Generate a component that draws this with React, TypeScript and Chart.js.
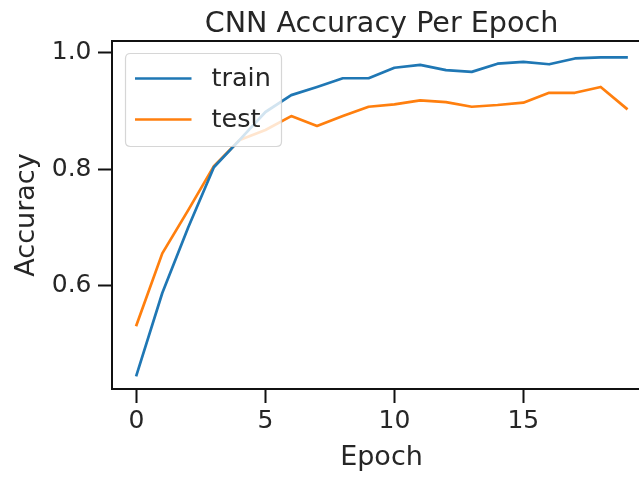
import React, { useEffect, useRef } from "react";
import { Chart, registerables } from "chart.js";

Chart.register(...registerables);

const epochs = [0, 1, 2, 3, 4, 5, 6, 7, 8, 9, 10, 11, 12, 13, 14, 15, 16, 17, 18, 19];
const trainAcc = [0.446, 0.587, 0.699, 0.803, 0.850, 0.898, 0.927, 0.941, 0.956, 0.956, 0.974, 0.979, 0.970, 0.967, 0.981, 0.984, 0.980, 0.990, 0.992, 0.992];
const testAcc = [0.532, 0.655, 0.729, 0.805, 0.850, 0.867, 0.891, 0.874, 0.891, 0.907, 0.911, 0.918, 0.915, 0.907, 0.910, 0.914, 0.931, 0.931, 0.941, 0.904];
const seriesLabels = ["train", "test"];
const seriesColors = ["#1f77b4", "#ff7f0e"];
const xTicks = [0, 5, 10, 15];
const yTicks = [0.6, 0.8, 1.0];
const titleText = "CNN Accuracy Per Epoch";
const xLabel = "Epoch";
const yLabel = "Accuracy";

const FONT = "'DejaVu Sans', 'Liberation Sans', sans-serif";
const TEXT = "#262626";
const EDGE = "#111111";

const mplPlugin = {
  id: "mplStyle",
  afterDatasetsDraw(chart: any) {
    const { ctx, chartArea: a } = chart;
    ctx.save();
    // spines
    ctx.strokeStyle = EDGE;
    ctx.lineWidth = 2;
    ctx.beginPath();
    ctx.moveTo(a.left, a.bottom);
    ctx.lineTo(a.left, a.top);
    ctx.lineTo(a.right, a.top);
    ctx.lineTo(a.right, a.bottom);
    ctx.closePath();
    ctx.stroke();

    // legend box
    const bx = a.left + 13.5, by = a.top + 12.5, bw = 156, bh = 93, r = 5;
    ctx.beginPath();
    ctx.moveTo(bx + r, by);
    ctx.lineTo(bx + bw - r, by);
    ctx.quadraticCurveTo(bx + bw, by, bx + bw, by + r);
    ctx.lineTo(bx + bw, by + bh - r);
    ctx.quadraticCurveTo(bx + bw, by + bh, bx + bw - r, by + bh);
    ctx.lineTo(bx + r, by + bh);
    ctx.quadraticCurveTo(bx, by + bh, bx, by + bh - r);
    ctx.lineTo(bx, by + r);
    ctx.quadraticCurveTo(bx, by, bx + r, by);
    ctx.closePath();
    ctx.fillStyle = "rgba(255,255,255,0.8)";
    ctx.fill();
    ctx.strokeStyle = "rgba(204,204,204,0.8)";
    ctx.lineWidth = 1.2;
    ctx.stroke();

    const rows = [by + 25, by + 66];
    chart.data.datasets.forEach((ds: any, i: number) => {
      const y = rows[i];
      ctx.strokeStyle = ds.borderColor;
      ctx.lineWidth = 2.7;
      ctx.lineCap = "butt";
      ctx.beginPath();
      ctx.moveTo(bx + 9.5, y);
      ctx.lineTo(bx + 66, y);
      ctx.stroke();
      ctx.fillStyle = TEXT;
      ctx.font = `25.5px ${FONT}`;
      ctx.textAlign = "left";
      ctx.textBaseline = "middle";
      ctx.fillText(ds.label, bx + 86, y + 1);
    });
    ctx.restore();
  },
  afterDraw(chart: any) {
    const { ctx, chartArea: a } = chart;
    ctx.save();
    ctx.fillStyle = TEXT;
    ctx.font = `28.6px ${FONT}`;
    ctx.textAlign = "center";
    ctx.textBaseline = "alphabetic";
    ctx.fillText(titleText, (a.left + a.right) / 2, 32);
    ctx.restore();
  },
};

export default function App() {
  const canvasRef = useRef<HTMLCanvasElement | null>(null);

  useEffect(() => {
    const canvas = canvasRef.current;
    if (!canvas) return;
    const chart = new Chart(canvas, {
      type: "line",
      data: {
        datasets: [trainAcc, testAcc].map((vals, i) => ({
          label: seriesLabels[i],
          data: epochs.map((e, j) => ({ x: e, y: vals[j] })),
          borderColor: seriesColors[i],
          backgroundColor: seriesColors[i],
          borderWidth: 2.7,
          pointRadius: 0,
          tension: 0,
          fill: false,
          borderJoinStyle: "round",
          borderCapStyle: "square",
        })),
      },
      options: {
        animation: false,
        responsive: false,
        devicePixelRatio: 1,
        layout: { padding: { top: 41, right: 49, left: 0, bottom: 0 } },
        plugins: {
          legend: { display: false },
          title: { display: false },
          tooltip: { enabled: false },
        },
        scales: {
          x: {
            type: "linear",
            min: -0.95,
            max: 19.95,
            afterBuildTicks: (s: any) => {
              s.ticks = xTicks.map((v) => ({ value: v }));
            },
            afterFit: (s: any) => {
              s.height = 88;
            },
            border: { display: false },
            grid: { drawOnChartArea: false, drawTicks: true, tickLength: 14, tickWidth: 2, tickColor: EDGE },
            ticks: {
              color: TEXT,
              font: { family: FONT, size: 25 },
              padding: 3,
              maxRotation: 0,
              autoSkip: false,
              callback: (v: any) => String(v),
            },
            title: {
              display: true,
              text: xLabel,
              color: TEXT,
              font: { family: FONT, size: 27 },
              padding: { top: 0, bottom: 3 },
            },
          },
          y: {
            type: "linear",
            min: 0.422,
            max: 1.02,
            afterBuildTicks: (s: any) => {
              s.ticks = yTicks.map((v) => ({ value: v }));
            },
            afterFit: (s: any) => {
              s.width = 112;
            },
            border: { display: false },
            grid: { drawOnChartArea: false, drawTicks: true, tickLength: 14, tickWidth: 2, tickColor: EDGE },
            ticks: {
              color: TEXT,
              font: { family: FONT, size: 25 },
              padding: 6.5,
              autoSkip: false,
              callback: (v: any) => Number(v).toFixed(1),
            },
            title: {
              display: true,
              text: yLabel,
              color: TEXT,
              font: { family: FONT, size: 27 },
              padding: { top: 11, bottom: 0 },
            },
          },
        },
      },
      plugins: [mplPlugin],
    } as any);
    return () => chart.destroy();
  }, []);

  return (
    <div
      style={{
        position: "fixed",
        left: 0,
        top: 0,
        width: 639,
        height: 477,
        overflow: "hidden",
        background: "#fff",
      }}
    >
      <canvas ref={canvasRef} width={700} height={477} style={{ display: "block", width: 700, height: 477 }} />
    </div>
  );
}
